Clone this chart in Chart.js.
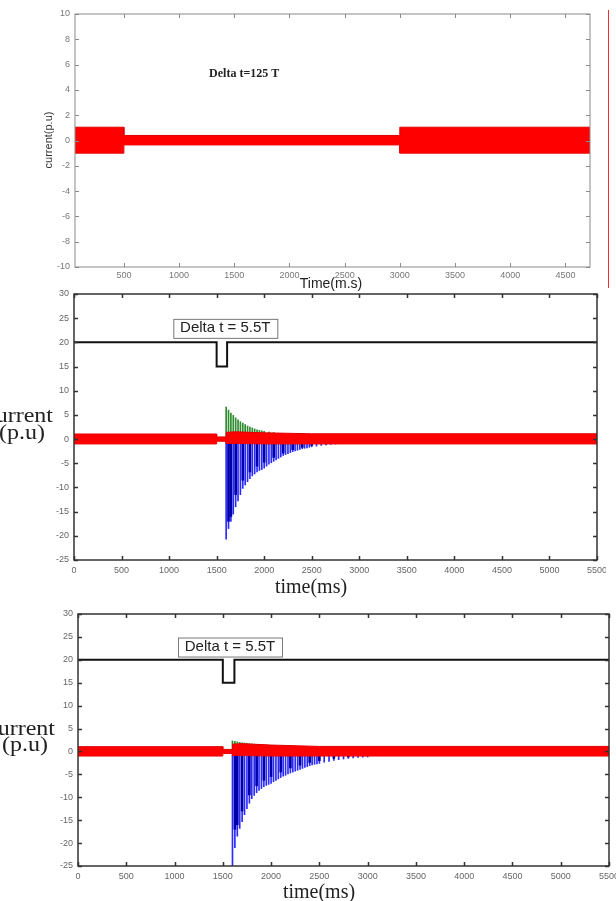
<!DOCTYPE html>
<html>
<head>
<meta charset="utf-8">
<script src="https://cdn.jsdelivr.net/npm/chart.js@4.4.1/dist/chart.umd.min.js"></script>
<style>
  html, body { margin: 0; padding: 0; background: #fff; }
  body { width: 616px; height: 901px; position: relative; overflow: hidden; }
  canvas { position: absolute; left: 0; top: 0; }
  #edge { position: absolute; left: 608px; top: 10px; height: 278px; border-left: 1px solid #e63232; }
</style>
</head>
<body>
<canvas id="panel1"></canvas>
<canvas id="panel2"></canvas>
<canvas id="panel3"></canvas>
<div id="edge"></div>
<script>
// ---------- data ----------

// Panel 1 (Delta t = 125 T): envelope of the red current trace
const p1Time  = [57, 500, 500, 3000, 3000, 4723];
const p1Upper = [1.05, 1.05, 0.4, 0.4, 1.05, 1.05];
const p1Lower = [-1.0, -1.0, -0.35, -0.35, -1.0, -1.0];
const p1XTicks = [500, 1000, 1500, 2000, 2500, 3000, 3500, 4000, 4500];
const p1YTicks = [-10, -8, -6, -4, -2, 0, 2, 4, 6, 8, 10];

// Panels 2 and 3 (Delta t = 5.5T)
const xTicks55 = [0, 500, 1000, 1500, 2000, 2500, 3000, 3500, 4000, 4500, 5000, 5500];
const yTicks55 = [-25, -20, -15, -10, -5, 0, 5, 10, 15, 20, 25, 30];

// black control signal (step down during the fault)
const p2StepTime = [0, 1500, 1500, 1610, 1610, 5500];
const p3StepTime = [0, 1500, 1500, 1620, 1620, 5500];
const stepLevel  = [20, 20, 15, 15, 20, 20];

// red current envelope
const bandTime    = [0, 1500, 1500, 1600, 1600, 1700, 2000, 2500, 5500];
const p2BandUpper = [1.05, 1.05, 0.45, 0.45, 1.4, 1.5, 1.3, 1.1, 1.1];
const p2BandLower = [-1.0, -1.0, -0.45, -0.45, -0.9, -0.9, -1.0, -1.0, -1.0];
const p3BandUpper = [1.05, 1.05, 0.45, 0.45, 1.6, 1.7, 1.4, 1.1, 1.1];
const p3BandLower = [-1.0, -1.0, -0.45, -0.45, -0.9, -0.9, -1.0, -1.0, -1.0];

// blue inrush spikes (negative)
const spikeTime = [1600, 1625, 1650, 1675, 1700, 1725, 1750, 1775, 1800, 1825, 1850, 1875,
                   1900, 1925, 1950, 1975, 2000, 2025, 2050, 2075, 2100, 2125, 2150, 2175,
                   2200, 2225, 2250, 2275, 2300, 2325, 2350, 2375, 2400, 2425, 2450, 2475,
                   2500, 2550, 2600, 2650, 2700, 2750, 2800, 2850, 2900, 2950, 3000];
const p2Blue = [-20.7, -18.5, -17, -15.5, -14, -12.8, -11.5, -10.2, -9.5, -8.8, -8.2, -7.6,
                -7.2, -6.8, -6.5, -6.3, -6.0, -5.6, -5.2, -4.9, -4.6, -4.3, -4.0, -3.7,
                -3.4, -3.2, -3.0, -2.8, -2.6, -2.45, -2.3, -2.15, -2.0, -1.9, -1.8, -1.7,
                -1.6, -1.45, -1.3, -1.2, -1.1, -1.0, -0.9, -0.85, -0.8, -0.75, -0.7];
const p3Blue = [-26, -21, -18.5, -16.8, -15.3, -13.8, -12.5, -11.3, -10.3, -9.6, -9.0, -8.5,
                -8.1, -7.7, -7.4, -7.2, -7.0, -6.6, -6.3, -6.0, -5.7, -5.4, -5.2, -4.9,
                -4.7, -4.5, -4.3, -4.1, -3.9, -3.7, -3.5, -3.3, -3.1, -2.95, -2.8, -2.7,
                -2.6, -2.35, -2.15, -1.95, -1.8, -1.65, -1.5, -1.4, -1.3, -1.25, -1.2];

// darker overlapping blue strokes
const darkTime = [1625, 1650, 1700, 1775, 1850, 1925, 2000, 2100, 2200, 2300, 2400, 2500, 2650, 2800];
const p2Dark = [-17, -16, -11.5, -8.5, -6.8, -5.6, -4.8, -3.8, -2.9, -2.2, -1.7, -1.3, -1.0, -0.8];
const p3Dark = [-17, -16, -13, -9.5, -7.5, -6.3, -5.5, -4.5, -3.6, -3.0, -2.4, -2.0, -1.5, -1.2];

// green spikes (positive)
const greenTime = [1600, 1625, 1650, 1675, 1700, 1725, 1750, 1775, 1800, 1825, 1850, 1875,
                   1900, 1925, 1950, 1975, 2000, 2050, 2100];
const p2Green = [6.6, 6.0, 5.4, 4.9, 4.4, 4.0, 3.6, 3.3, 3.0, 2.7, 2.5, 2.3,
                 2.1, 1.9, 1.8, 1.7, 1.6, 1.45, 1.35];
const p3Green = [2.3, 2.2, 2.1, 2.0, 1.9, 1.85, 1.8, 1.7, 1.65, 1.6, 1.55, 1.5,
                 1.45, 1.4, 1.4, 1.35, 1.3, 1.25, 1.2];

// ---------- helpers ----------
const SANS = '"Liberation Sans", Arial, sans-serif';
const SERIF = '"Liberation Serif", "Times New Roman", serif';

const pts = (xs, ys) => xs.map((x, i) => ({ x: x, y: ys[i] }));

// box + inward tick marks, MATLAB style
const framePlugin = {
    id: 'frame',
    afterDraw(chart, args, opts) {
        const { ctx, chartArea: a, scales } = chart;
        ctx.save();
        ctx.strokeStyle = opts.color;
        ctx.lineWidth = opts.width;
        ctx.strokeRect(a.left, a.top, a.right - a.left, a.bottom - a.top);
        ctx.lineWidth = opts.tickWidth;
        ctx.beginPath();
        scales.x.ticks.forEach(t => {
            const px = Math.round(scales.x.getPixelForValue(t.value)) + 0.5;
            ctx.moveTo(px, a.bottom); ctx.lineTo(px, a.bottom - opts.tick);
            ctx.moveTo(px, a.top); ctx.lineTo(px, a.top + opts.tick);
        });
        scales.y.ticks.forEach(t => {
            const py = Math.round(scales.y.getPixelForValue(t.value)) + 0.5;
            ctx.moveTo(a.left, py); ctx.lineTo(a.left + opts.tick, py);
            ctx.moveTo(a.right, py); ctx.lineTo(a.right - opts.tick, py);
        });
        ctx.stroke();
        ctx.restore();
    }
};

// free text: axis titles and the "Delta t" notes
const notesPlugin = {
    id: 'notes',
    afterDraw(chart, args, opts) {
        const { ctx, scales } = chart;
        (opts.items || []).forEach(n => {
            let x = n.x, y = n.y;
            if (n.data) {
                x = scales.x.getPixelForValue(n.x);
                y = scales.y.getPixelForValue(n.y);
            }
            ctx.save();
            ctx.font = n.font;
            ctx.fillStyle = n.color || '#000';
            ctx.textAlign = n.align || 'center';
            ctx.textBaseline = n.baseline || 'alphabetic';
            ctx.translate(x, y);
            if (n.rotate) ctx.rotate(n.rotate);
            if (n.stretch) ctx.scale(n.stretch, 1);
            if (n.box) {
                const w = ctx.measureText(n.text).width + 2 * n.box.padX;
                const h = n.box.h;
                ctx.fillStyle = '#fff';
                ctx.fillRect(-w / 2, -h / 2, w, h);
                ctx.strokeStyle = n.box.color;
                ctx.lineWidth = 1;
                ctx.strokeRect(Math.round(-w / 2) + 0.5, Math.round(-h / 2) + 0.5, Math.round(w), Math.round(h));
                ctx.fillStyle = n.color || '#000';
            }
            ctx.fillText(n.text, 0, 0);
            ctx.restore();
        });
    }
};

function makePanel(id, box, datasets, opts) {
    const canvas = document.getElementById(id);
    canvas.width = box.width;
    canvas.height = 901;
    const tickFont = { family: SANS, size: opts.tickSize };
    return new Chart(canvas.getContext('2d'), {
        type: 'line',
        data: { datasets: datasets },
        options: {
            responsive: false,
            animation: false,
            devicePixelRatio: 1,
            events: [],
            layout: { padding: { top: box.top, right: box.width - box.right, bottom: 0, left: 0 } },
            elements: { point: { radius: 0 }, line: { tension: 0 } },
            scales: {
                x: {
                    type: 'linear',
                    min: opts.xMin, max: opts.xMax,
                    offset: false,
                    grid: { display: false, drawTicks: false },
                    border: { display: false },
                    afterBuildTicks: s => { s.ticks = opts.xTicks.map(v => ({ value: v })); },
                    afterFit: s => { s.height = 901 - box.bottom; s.paddingLeft = 0; s.paddingRight = 0; },
                    ticks: {
                        autoSkip: false, maxRotation: 0, padding: opts.xPad,
                        font: tickFont, color: opts.tickColor,
                        callback: v => String(v)
                    }
                },
                y: {
                    type: 'linear',
                    min: opts.yMin, max: opts.yMax,
                    grid: { display: false, drawTicks: false },
                    border: { display: false },
                    afterBuildTicks: s => { s.ticks = opts.yTicks.map(v => ({ value: v })); },
                    afterFit: s => { s.width = box.left; s.paddingTop = 0; s.paddingBottom = 0; },
                    ticks: {
                        autoSkip: false, padding: opts.yPad,
                        font: tickFont, color: opts.tickColor,
                        callback: v => String(v)
                    }
                }
            },
            plugins: {
                legend: { display: false },
                tooltip: { enabled: false },
                frame: opts.frame,
                notes: { items: opts.notes }
            }
        },
        plugins: [framePlugin, notesPlugin]
    });
}

function band(time, upper, lower) {
    return [
        { data: pts(time, upper), borderColor: '#e00000', borderWidth: 1, backgroundColor: '#ff0000', fill: '+1', order: 1 },
        { data: pts(time, lower), borderColor: '#e00000', borderWidth: 1, fill: false, order: 1 }
    ];
}

function spikes(time, values, color, thickness, order) {
    return {
        type: 'bar', data: pts(time, values), backgroundColor: color,
        barThickness: thickness, grouped: false, order: order
    };
}

// ---------- Panel 1 ----------
makePanel('panel1', { width: 616, left: 75, right: 590, top: 14, bottom: 267 },
    band(p1Time, p1Upper, p1Lower),
    {
        xMin: 57, xMax: 4723, yMin: -10, yMax: 10,
        xTicks: p1XTicks, yTicks: p1YTicks,
        tickSize: 9, tickColor: '#777', xPad: 3, yPad: 5,
        frame: { color: '#8a8a8a', width: 1, tick: 4, tickWidth: 1 },
        notes: [
            { text: 'Delta t=125 T', x: 1590, y: 5.25, data: true, font: 'bold 12px ' + SERIF, baseline: 'middle', color: '#222' },
            { text: 'current(p.u)', x: 49, y: 140, rotate: -Math.PI / 2, font: '11px ' + SANS, baseline: 'middle', color: '#333' },
            { text: 'Time(m.s)', x: 331, y: 288, font: '14px ' + SANS, color: '#222' }
        ]
    });

// ---------- Panel 2 ----------
makePanel('panel2', { width: 606, left: 74, right: 597, top: 294, bottom: 560 },
    [
        { data: pts(p2StepTime, stepLevel), borderColor: '#111', borderWidth: 2, fill: false, order: 0 },
        ...band(bandTime, p2BandUpper, p2BandLower),
        spikes(darkTime, p2Dark, '#0000a8', 2, 2),
        spikes(spikeTime, p2Blue, '#2a2aff', 1, 3),
        spikes(greenTime, p2Green, '#2e8b2e', 1, 3)
    ],
    {
        xMin: 0, xMax: 5500, yMin: -25, yMax: 30,
        xTicks: xTicks55, yTicks: yTicks55,
        tickSize: 9, tickColor: '#666', xPad: 5, yPad: 5,
        frame: { color: '#333', width: 1.5, tick: 4, tickWidth: 1.5 },
        notes: [
            { text: 'Delta t = 5.5T', x: 1591, y: 23, data: true, font: '15px ' + SANS, baseline: 'middle', color: '#222',
              box: { padX: 7, h: 19, color: '#777' } },
            { text: 'current', x: 53, y: 422, align: 'right', stretch: 1.2, font: '20px ' + SERIF, color: '#222' },
            { text: '(p.u)', x: 45, y: 439, align: 'right', stretch: 1.2, font: '20px ' + SERIF, color: '#222' },
            { text: 'time(ms)', x: 311, y: 593, font: '20px ' + SERIF, color: '#222' }
        ]
    });

// ---------- Panel 3 ----------
makePanel('panel3', { width: 616, left: 78, right: 609, top: 614, bottom: 866 },
    [
        { data: pts(p3StepTime, stepLevel), borderColor: '#111', borderWidth: 2, fill: false, order: 0 },
        ...band(bandTime, p3BandUpper, p3BandLower),
        spikes(darkTime, p3Dark, '#0000a8', 2, 2),
        spikes(spikeTime, p3Blue, '#2a2aff', 1, 3),
        spikes(greenTime, p3Green, '#2e8b2e', 1, 3)
    ],
    {
        xMin: 0, xMax: 5500, yMin: -25, yMax: 30,
        xTicks: xTicks55, yTicks: yTicks55,
        tickSize: 9, tickColor: '#666', xPad: 5, yPad: 5,
        frame: { color: '#333', width: 1.5, tick: 4, tickWidth: 1.5 },
        notes: [
            { text: 'Delta t = 5.5T', x: 1574, y: 22.9, data: true, font: '15px ' + SANS, baseline: 'middle', color: '#222',
              box: { padX: 7, h: 19, color: '#777' } },
            { text: 'current', x: 55, y: 735, align: 'right', stretch: 1.2, font: '20px ' + SERIF, color: '#222' },
            { text: '(p.u)', x: 48, y: 751, align: 'right', stretch: 1.2, font: '20px ' + SERIF, color: '#222' },
            { text: 'time(ms)', x: 319, y: 898, font: '20px ' + SERIF, color: '#222' }
        ]
    });
</script>
</body>
</html>
